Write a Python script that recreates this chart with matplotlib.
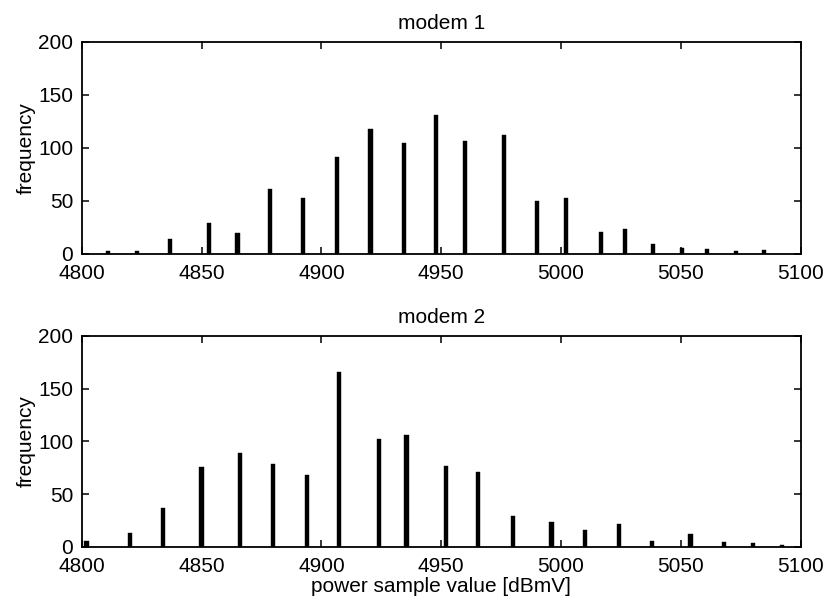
"""Histogram of power sample values for two cable modems (MATLAB-style stem bars)."""

import matplotlib

matplotlib.use("Agg")

import matplotlib.pyplot as plt

# modem 1: power sample value [dBmV] and frequency
modem1_values = [4811, 4823, 4837, 4853, 4865, 4878.5, 4892.5, 4906.5, 4920.5, 4934.5,
                 4948, 4960, 4976, 4990, 5002, 5016.5, 5026.5, 5038.5, 5050.5, 5061,
                 5073, 5084.5]
modem1_counts = [3, 3, 14, 29, 20, 61, 53, 91, 118, 105,
                 131, 106, 112, 50, 53, 21, 24, 9, 6, 5,
                 3, 4]

# modem 2
modem2_values = [4802, 4820, 4834, 4850, 4866, 4880, 4894, 4907.5, 4924, 4935.5,
                 4952, 4965.5, 4980, 4996, 5010, 5024, 5038, 5054, 5068, 5080,
                 5092]
modem2_counts = [6, 13, 37, 76, 89, 79, 68, 166, 102, 106,
                 77, 71, 29, 24, 16, 22, 6, 12, 5, 4,
                 2]

x_ticks = [4800, 4850, 4900, 4950, 5000, 5050, 5100]
y_ticks = [0, 50, 100, 150, 200]

FONT_SIZE = 15

plt.rcParams.update(
    {
        "font.family": ["Liberation Sans", "DejaVu Sans"],
        "font.size": FONT_SIZE,
        "axes.linewidth": 1.3,
    }
)

fig = plt.figure(figsize=(8.31, 6.05), dpi=100)
ax1 = fig.add_axes([0.0983, 0.5802, 0.8653, 0.3509])
ax2 = fig.add_axes([0.0983, 0.0959, 0.8653, 0.3488])

panels = [
    (ax1, modem1_values, modem1_counts, "modem 1"),
    (ax2, modem2_values, modem2_counts, "modem 2"),
]

for ax, values, counts, title in panels:
    ax.bar(values, counts, width=1.7, color="black", edgecolor="black", linewidth=0.3)
    ax.set_xlim(4800, 5100)
    ax.set_ylim(0, 200)
    ax.set_xticks(x_ticks)
    ax.set_yticks(y_ticks)
    ax.tick_params(direction="in", length=5, width=1.1, top=True, right=True,
                   labelsize=FONT_SIZE, color="black")
    ax.tick_params(axis="x", pad=7)
    ax.tick_params(axis="y", pad=6)
    ax.set_ylabel("frequency", labelpad=2)
    ax.set_title(title, fontsize=FONT_SIZE, pad=9)

ax2.set_xlabel("power sample value [dBmV]", labelpad=1)

fig.savefig("out.png", dpi=100, facecolor="white")
